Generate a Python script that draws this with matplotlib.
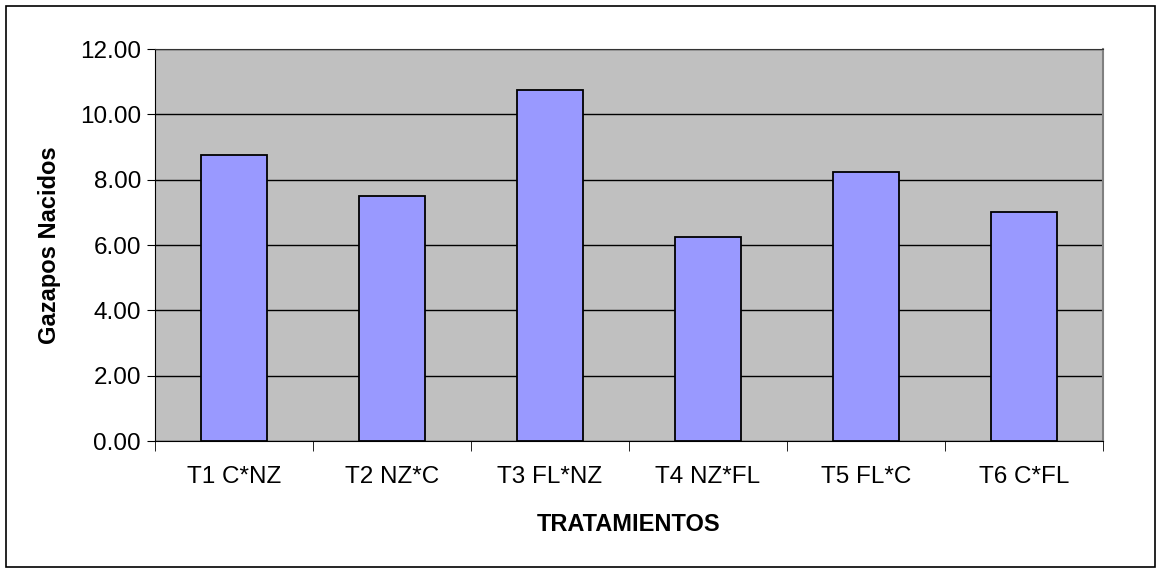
import matplotlib.pyplot as plt
import numpy as np
from matplotlib.patches import Rectangle

plt.rcParams["font.family"] = ["Liberation Sans", "DejaVu Sans"]

tratamientos = ["T1 C*NZ", "T2 NZ*C", "T3 FL*NZ", "T4 NZ*FL", "T5 FL*C", "T6 C*FL"]
gazapos = [8.75, 7.5, 10.75, 6.25, 8.25, 7.0]
y_ticks = [0, 2, 4, 6, 8, 10, 12]

fig = plt.figure(figsize=(11.57, 5.69), dpi=100)
fig.patches.append(Rectangle((6 / 1157, 2 / 569), 1149 / 1157, 561 / 569, transform=fig.transFigure,
                             fill=False, edgecolor="black", linewidth=1.2))
ax = fig.add_axes([155 / 1157, 1 - 441 / 569, (1103 - 155) / 1157, (441 - 49) / 569])
ax.set_facecolor("#c0c0c0")

x = np.arange(len(tratamientos))
ax.bar(x, gazapos, width=0.42, color="#9999ff", edgecolor="black", linewidth=1.3, zorder=3)

ax.set_xlim(-0.5, len(tratamientos) - 0.5)
ax.set_ylim(0, 12)
ax.set_yticks(y_ticks)
ax.set_yticklabels([f"{v:.2f}" for v in y_ticks], fontsize=17.5)
ax.set_xticks(x)
ax.set_xticklabels(tratamientos, fontsize=17.5)
ax.tick_params(axis="x", length=0, pad=18)
ax.set_xticks(np.arange(-0.5, len(tratamientos)), minor=True)
ax.tick_params(axis="x", which="minor", length=7, direction="out", color="black")
ax.tick_params(axis="y", length=6, direction="out", pad=4)
ax.yaxis.grid(True, color="black", linewidth=1, zorder=1)
ax.set_axisbelow(True)

ax.spines["right"].set_color("#808080")
ax.spines["right"].set_linewidth(1.5)
ax.spines["top"].set_color("#333333")
ax.spines["left"].set_color("black")
ax.spines["bottom"].set_color("black")

ax.set_xlabel("TRATAMIENTOS", fontsize=17, fontweight="bold", labelpad=18)
ax.set_ylabel("Gazapos Nacidos", fontsize=17, fontweight="bold", labelpad=14)

fig.savefig("out.png", dpi=100)
